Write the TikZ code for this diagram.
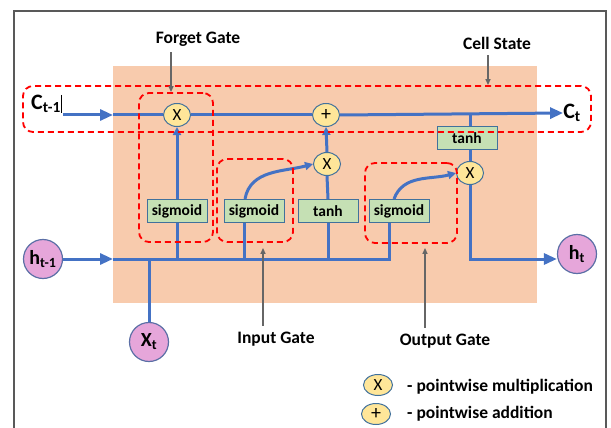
\documentclass[tikz,border=0pt]{standalone}
\usepackage{fontspec}
\setmainfont{Carlito}
\usetikzlibrary{arrows.meta, shapes}

\definecolor{cellorange}{HTML}{F8CBAD}
\definecolor{boxgreen}{HTML}{C5E0B4}
\definecolor{boxedge}{HTML}{41719C}
\definecolor{opyellow}{HTML}{FFE699}
\definecolor{statepink}{HTML}{E6A6DA}
\definecolor{stateedge}{HTML}{5B6FA6}
\definecolor{flowblue}{HTML}{4472C4}
\definecolor{markgray}{HTML}{666666}
\definecolor{bordergray}{HTML}{595959}

\tikzset{
  flow/.style={draw=flowblue, line width=3pt},
  bigtip/.style={-{Triangle[length=13pt,width=11pt]}},
  smalltip/.style={-{Triangle[length=8pt,width=8pt]}},
  act/.style={draw=boxedge, line width=1pt, fill=boxgreen, minimum width=60pt, minimum height=23pt, inner sep=0pt, font=\fontsize{15.5}{17}\selectfont\bfseries},
  op/.style={ellipse, draw=boxedge, line width=1pt, fill=opyellow, minimum width=27pt, minimum height=23pt, inner sep=0pt, font=\fontsize{17}{19}\selectfont},
  state/.style={circle, draw=stateedge, line width=1.2pt, fill=statepink, minimum size=39pt, inner sep=0pt, font=\fontsize{20}{22}\selectfont\bfseries},
  gate/.style={draw=red, line width=1.8pt, dash pattern=on 6pt off 4pt, rounded corners=10pt, inner sep=0pt},
  tag/.style={font=\fontsize{17.5}{20}\selectfont\bfseries, inner sep=0pt},
  pointer/.style={draw=markgray, line width=1.3pt, shorten <=6pt, -{Triangle[length=6pt,width=5pt]}},
}

\begin{document}
\begin{tikzpicture}[x=1pt, y=-1pt]
\useasboundingbox (0,0) rectangle (611,428);
    %frame and cell
    \draw[bordergray, line width=1.5pt] (14,428) |- (606,11) -- (606,428);
    \fill[cellorange] (113,66) rectangle (537,303);
    %inputs and outputs
    \node[tag, font=\fontsize{22}{24}\selectfont\bfseries] (cprev) at (46,104) {C\textsubscript{t-1}};
    \node[tag, font=\fontsize{22}{24}\selectfont\bfseries] (cnext) at (572,113) {C\textsubscript{t}};
    \node[state] (hprev) at (43,259) {h\textsubscript{t-1}};
    \node[state] (hnext) at (577,254) {h\textsubscript{t}};
    \node[state] (xin) at (149,342) {X\textsubscript{t}};
    \coordinate (cin) at (63,115);
    \coordinate (cbox) at (113,115);
    \coordinate (hin) at (113,259);
    %operations
    \node[op] (fmul) at (177,115) {X};
    \node[op, font=\fontsize{20}{22}\selectfont] (addop) at (326,115) {+};
    \node[op] (imul) at (327,164) {X};
    \node[op] (omul) at (470,173) {X};
    \node[act] (fsig) at (177,211) {sigmoid};
    \node[act] (isig) at (254,211) {sigmoid};
    \node[act] (itanh) at (328,211) {tanh};
    \node[act] (osig) at (399,211) {sigmoid};
    \node[act] (otanh) at (467,138) {tanh};
    %cell state line
    \draw[black, line width=0.6pt] (cprev.north east) -- (cprev.south east);
    \draw[flow, bigtip] (cin) -- (cbox);
    \draw[flow] (cbox) -- (fmul.west);
    \draw[flow] (fmul.east) -- (addop.west);
    \draw[flow, bigtip] (addop.east) -- (cnext.west);
    %hidden state line
    \draw[flow, bigtip] (hprev.east |- hin) -- (hin);
    \draw[flow] (hin) -| ([xshift=-10pt]osig.south);
    \draw[flow] (xin.north) -- (xin.north |- hin);
    %forget gate
    \draw[flow] (fsig.south) -- (fsig.south |- hin);
    \draw[flow, smalltip] (fsig.north) -- (fmul.south);
    %input gate
    \draw[flow] ([xshift=-10pt]isig.south) -- ([xshift=-10pt]isig.south |- hin);
    \draw[flow, smalltip] ([xshift=-9pt]isig.north) to[out=80, in=195] (imul.west);
    \draw[flow] (itanh.south) -- (itanh.south |- hin);
    \draw[flow] (itanh.north) -- (imul.south);
    \draw[flow, smalltip] (imul.north) -- (addop.south);
    %output gate
    \draw[flow, smalltip] ([xshift=-5pt]osig.north) to[out=70, in=195] (omul.west);
    \draw[flow] (omul |- addop) -- (omul |- otanh.north);
    \draw[flow] (omul |- otanh.south) -- (omul.north);
    \draw[flow, bigtip] (omul.south) |- (hnext.west |- hin);
    %gates
    \node[gate, minimum width=568pt, minimum height=46pt] (cellbox) at (307,109) {};
    \node[gate, minimum width=74pt, minimum height=149pt] (fgbox) at (176,167.5) {};
    \node[gate, minimum width=76pt, minimum height=83pt] (inbox) at (255,200.5) {};
    \node[gate, minimum width=92pt, minimum height=80pt] (outbox) at (411,203) {};
    %labels
    \node[tag] (fglbl) at (198,39) {Forget Gate};
    \node[tag] (cslbl) at (497,43) {Cell State};
    \node[tag] (inlbl) at (276,339) {Input Gate};
    \node[tag] (outlbl) at (445,341) {Output Gate};
    \draw[pointer] (fglbl.south -| 171,0) -- (fgbox.north -| 171,0);
    \draw[pointer] (cslbl.south -| 488,0) -- (cellbox.north -| 488,0);
    \draw[pointer, shorten >=5pt] (inlbl.north -| 263,0) -- (inbox.south -| 263,0);
    \draw[pointer, shorten >=4pt] (outlbl.north -| 425,0) -- (outbox.south -| 425,0);
    %legend
    \node[op, minimum width=29pt, minimum height=21pt] (legmul) at (378,385) {X};
    \node[op, minimum width=29pt, minimum height=21pt, font=\fontsize{20}{22}\selectfont] (legadd) at (376,414) {+};
    \node[tag, anchor=west] (legmultxt) at (407,387) {- pointwise multiplication};
    \node[tag, anchor=west] (legaddtxt) at (407,414) {- pointwise addition};
\end{tikzpicture}
\end{document}
